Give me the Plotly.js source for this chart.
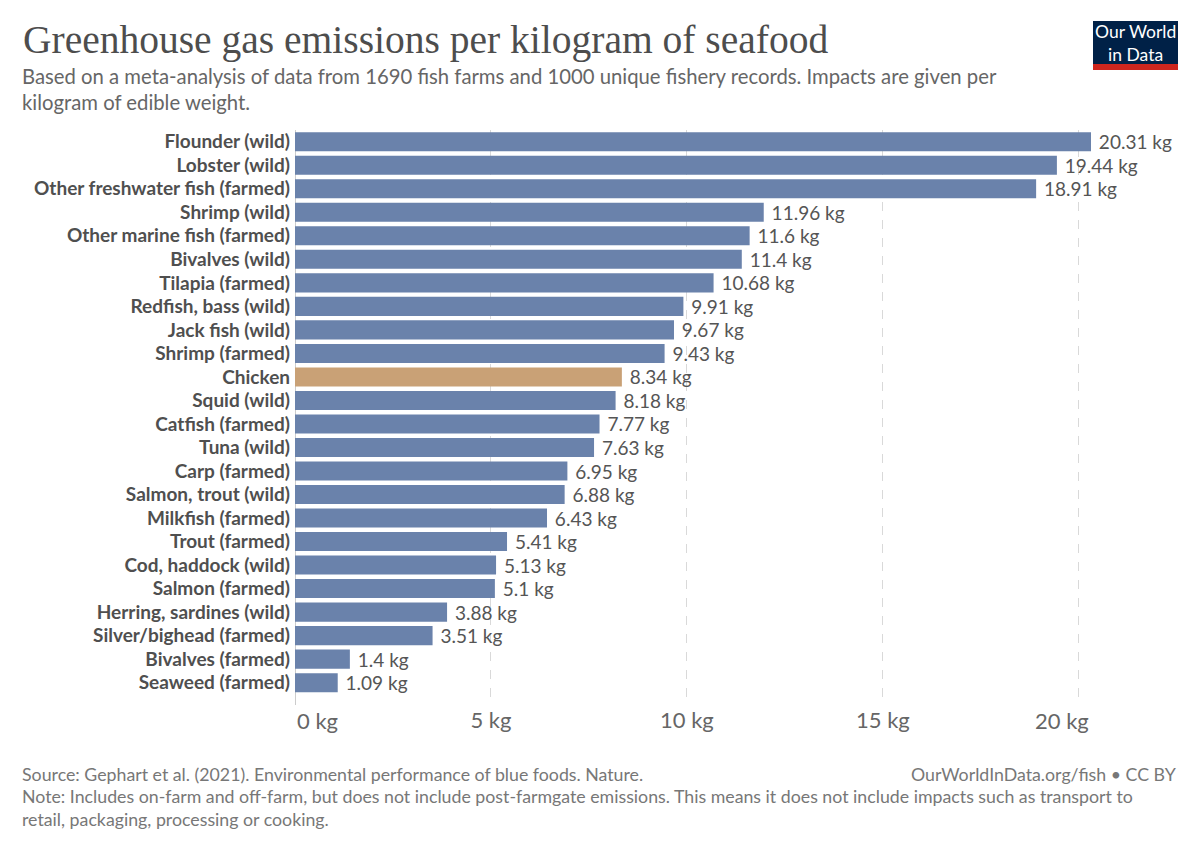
<!DOCTYPE html>
<html>
<head>
<meta charset="utf-8">
<script src="https://cdn.plot.ly/plotly-3.0.1.min.js"></script>
<style>
html,body{margin:0;padding:0;background:#fff;}
#chart{width:1200px;height:847px;}
</style>
</head>
<body>
<div id="chart"></div>
<script>
const categories = [
  "Flounder (wild)", "Lobster (wild)", "Other freshwater fish (farmed)", "Shrimp (wild)",
  "Other marine fish (farmed)", "Bivalves (wild)", "Tilapia (farmed)", "Redfish, bass (wild)",
  "Jack fish (wild)", "Shrimp (farmed)", "Chicken", "Squid (wild)", "Catfish (farmed)",
  "Tuna (wild)", "Carp (farmed)", "Salmon, trout (wild)", "Milkfish (farmed)", "Trout (farmed)",
  "Cod, haddock (wild)", "Salmon (farmed)", "Herring, sardines (wild)", "Silver/bighead (farmed)",
  "Bivalves (farmed)", "Seaweed (farmed)"
];
const emissions = [
  20.31, 19.44, 18.91, 11.96, 11.6, 11.4, 10.68, 9.91, 9.67, 9.43, 8.34, 8.18, 7.77,
  7.63, 6.95, 6.88, 6.43, 5.41, 5.13, 5.1, 3.88, 3.51, 1.4, 1.09
];
const highlight = "Chicken";
const xTickValues = [0, 5, 10, 15, 20];
const xTickLabels = ["0 kg", "5 kg", "10 kg", "15 kg", "20 kg"];

const colors = categories.map(c => c === highlight ? "#c9a176" : "#6a82ab");
const xMax = Math.max(...emissions);

const trace = {
  type: "bar",
  orientation: "h",
  y: categories,
  x: emissions,
  marker: {color: colors},
  texttemplate: " %{x} kg",
  textposition: "outside",
  constraintext: "none",
  cliponaxis: false,
  textfont: {family: "Lato", size: 19, color: "#555"},
  hoverinfo: "none"
};

const L = 295, R = 1200 - 1091, T = 130, B = 142;
const plotW = 1200 - L - R, plotH = 847 - T - B;
function px(x) { return (x - L) / plotW; }
function py(y) { return (847 - B - y) / plotH; }

// middle ticks drawn by the axis; first and last aligned to the plot edges like the source
const midIdx = [1, 2, 3];

const layout = {
  width: 1200, height: 847,
  margin: {l: L, r: R, t: T, b: B},
  paper_bgcolor: "#fff", plot_bgcolor: "#fff",
  bargap: 0.19,
  showlegend: false,
  font: {family: "Lato", color: "#555"},
  xaxis: {
    range: [0, xMax],
    tickvals: xTickValues,
    ticktext: xTickValues.map((v, i) => midIdx.includes(i) ? xTickLabels[i] : ""),
    showgrid: true, gridcolor: "#d9d9d9", griddash: "dash", gridwidth: 1,
    zeroline: false, showline: false, ticks: "",
    tickfont: {family: "Lato", size: 22, color: "#666"},
    fixedrange: true
  },
  yaxis: {
    type: "category",
    categoryorder: "array", categoryarray: categories,
    range: [23.95, -0.5],
    showgrid: false, zeroline: false, ticks: "",
    ticklabelstandoff: 4,
    tickfont: {family: "Lato", size: 19, color: "#4f4f4f", weight: "bold"},
    fixedrange: true
  }
};

layout.annotations = [
  {text: xTickLabels[0], xref: "x", x: xTickValues[0], y: py(720), xanchor: "left", yanchor: "middle",
   font: {family: "Lato", size: 22, color: "#666"}},
  {text: xTickLabels[4], xref: "paper", x: 1, y: py(720), xanchor: "right", yanchor: "middle",
   font: {family: "Lato", size: 22, color: "#666"}},
  {text: "Greenhouse gas emissions per kilogram of seafood", x: px(21), y: py(40),
   xanchor: "left", yanchor: "middle",
   font: {family: "Liberation Serif, DejaVu Serif, serif", size: 39.5, color: "#4d4d4d"}},
  {text: "Based on a meta-analysis of data from 1690 fish farms and 1000 unique fishery records. Impacts are given per<br>kilogram of edible weight.",
   x: px(20), y: py(89), xanchor: "left", yanchor: "middle", align: "left",
   font: {family: "Lato", size: 20.3, color: "#666"}},
  {text: "Source: Gephart et al. (2021). Environmental performance of blue foods. Nature.",
   x: px(20), y: py(774), xanchor: "left", yanchor: "middle",
   font: {family: "Lato", size: 17.75, color: "#777"}},
  {text: "OurWorldInData.org/fish • CC BY",
   x: px(1179), y: py(774), xanchor: "right", yanchor: "middle",
   font: {family: "Lato", size: 17.75, color: "#777"}},
  {text: "Note: Includes on-farm and off-farm, but does not include post-farmgate emissions. This means it does not include impacts such as transport to<br>retail, packaging, processing or cooking.",
   x: px(20), y: py(807), xanchor: "left", yanchor: "middle", align: "left",
   font: {family: "Lato", size: 17.75, color: "#777"}},
  {text: "Our World<br>in Data", x: px(1135.5), y: py(43), xanchor: "center", yanchor: "middle",
   align: "center", font: {family: "Lato", size: 17.5, color: "#fff"}}
].map(a => Object.assign({xref: "paper", yref: "paper", showarrow: false}, a));

layout.shapes = [
  {type: "line", xref: "x", yref: "paper", x0: 0, x1: 0, y0: 0, y1: 1,
   line: {color: "#999", width: 1}, layer: "below"},
  {type: "rect", xref: "paper", yref: "paper", x0: px(1093), x1: px(1178), y0: py(70), y1: py(21),
   fillcolor: "#002147", line: {width: 0}},
  {type: "rect", xref: "paper", yref: "paper", x0: px(1093), x1: px(1178), y0: py(70), y1: py(64),
   fillcolor: "#ce261e", line: {width: 0}}
];

Plotly.newPlot("chart", [trace], layout, {displayModeBar: false, staticPlot: true});
</script>
</body>
</html>
